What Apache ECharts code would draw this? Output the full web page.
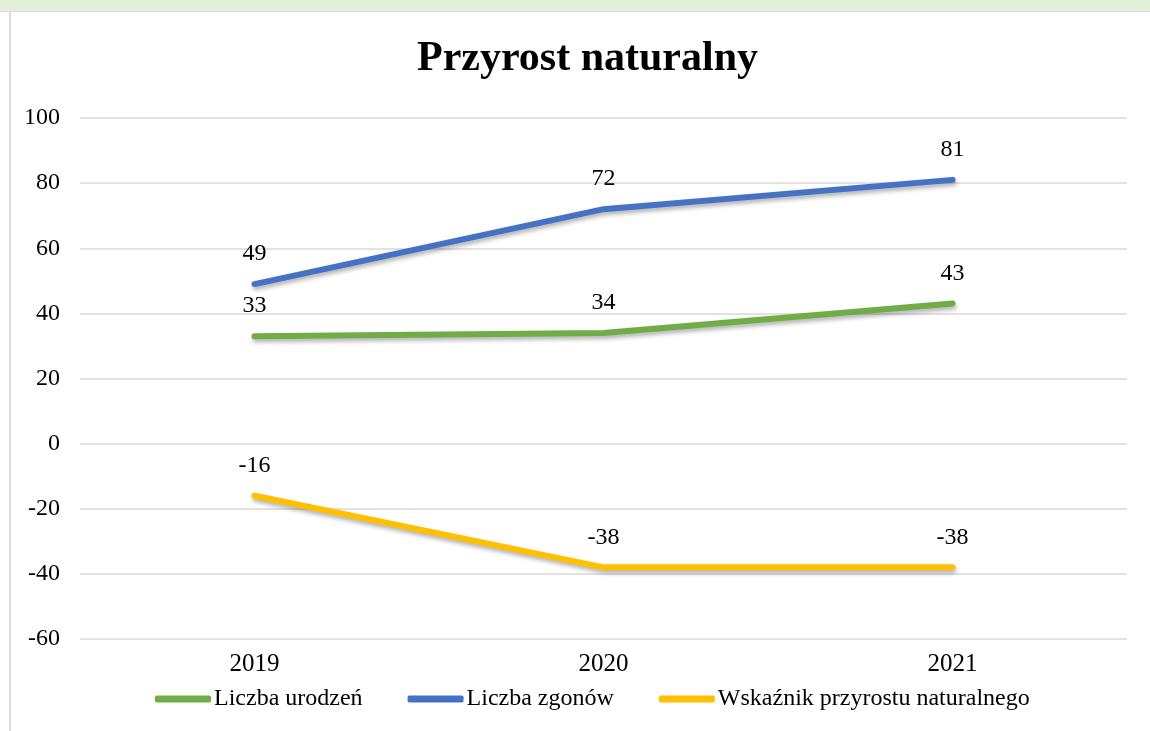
<!DOCTYPE html>
<html>
<head>
<meta charset="utf-8">
<script src="https://cdn.jsdelivr.net/npm/echarts@6/dist/echarts.min.js"></script>
<style>
  html, body { margin: 0; padding: 0; background: #fff; }
  #chart { width: 1150px; height: 731px; }
</style>
</head>
<body>
<div id="chart"></div>
<script>
// dane z wykresu
const years = ['2019', '2020', '2021']
const urodzenia = [33, 34, 43]
const zgony = [49, 72, 81]
const przyrost = [-16, -38, -38]
const yTicks = { min: -60, max: 100, interval: 20 }

const font = 'Liberation Serif'

const chart = echarts.init(document.getElementById('chart'))

// wspólne ustawienia serii
function lineSeries(name, data, color) {
  return {
    name: name,
    type: 'line',
    data: data,
    symbol: 'circle',
    symbolSize: 0,
    lineStyle: {
      width: 6,
      color: color,
      cap: 'round',
      shadowColor: 'rgba(0,0,0,0.3)',
      shadowBlur: 4,
      shadowOffsetX: 1,
      shadowOffsetY: 3,
    },
    itemStyle: { color: color },
    label: {
      show: true,
      position: 'top',
      distance: 18,
      color: '#000',
      fontFamily: font,
      fontSize: 24,
    },
  }
}

chart.setOption({
  animation: false,
  title: {
    text: 'Przyrost naturalny',
    left: 412,
    top: 33,
    textStyle: { fontFamily: font, fontSize: 42, fontWeight: 'bold', color: '#000' },
  },
  graphic: [
    { type: 'rect', shape: { x: 0, y: 0, width: 1150, height: 11 }, style: { fill: '#e2efd9' } },
    { type: 'rect', shape: { x: 0, y: 11, width: 1150, height: 1 }, style: { fill: '#d9d9d9' } },
    { type: 'rect', shape: { x: 9, y: 12, width: 2, height: 719 }, style: { fill: '#d9d9d9' } },
  ],
  legend: {
    bottom: 15,
    left: 150,
    icon: 'roundRect',
    itemWidth: 56,
    itemHeight: 7,
    itemGap: 45,
    textStyle: { fontFamily: font, fontSize: 24, color: '#000', padding: [0, 0, 0, -2] },
    data: ['Liczba urodzeń', 'Liczba zgonów', 'Wskaźnik przyrostu naturalnego'],
  },
  grid: { left: 80, right: 23, top: 118, bottom: 92 },
  xAxis: {
    type: 'category',
    data: years,
    boundaryGap: true,
    axisLine: { show: false },
    axisTick: { show: false },
    axisLabel: { color: '#000', fontFamily: font, fontSize: 25, margin: 13 },
  },
  yAxis: {
    type: 'value',
    min: yTicks.min,
    max: yTicks.max,
    interval: yTicks.interval,
    axisLine: { show: false },
    axisTick: { show: false },
    axisLabel: { color: '#000', fontFamily: font, fontSize: 24, margin: 20 },
    splitLine: { lineStyle: { color: '#d9d9d9', width: 1.5 } },
  },
  series: [
    lineSeries('Liczba urodzeń', urodzenia, '#70ad47'),
    lineSeries('Liczba zgonów', zgony, '#4472c4'),
    lineSeries('Wskaźnik przyrostu naturalnego', przyrost, '#ffc000'),
  ],
})
</script>
</body>
</html>
